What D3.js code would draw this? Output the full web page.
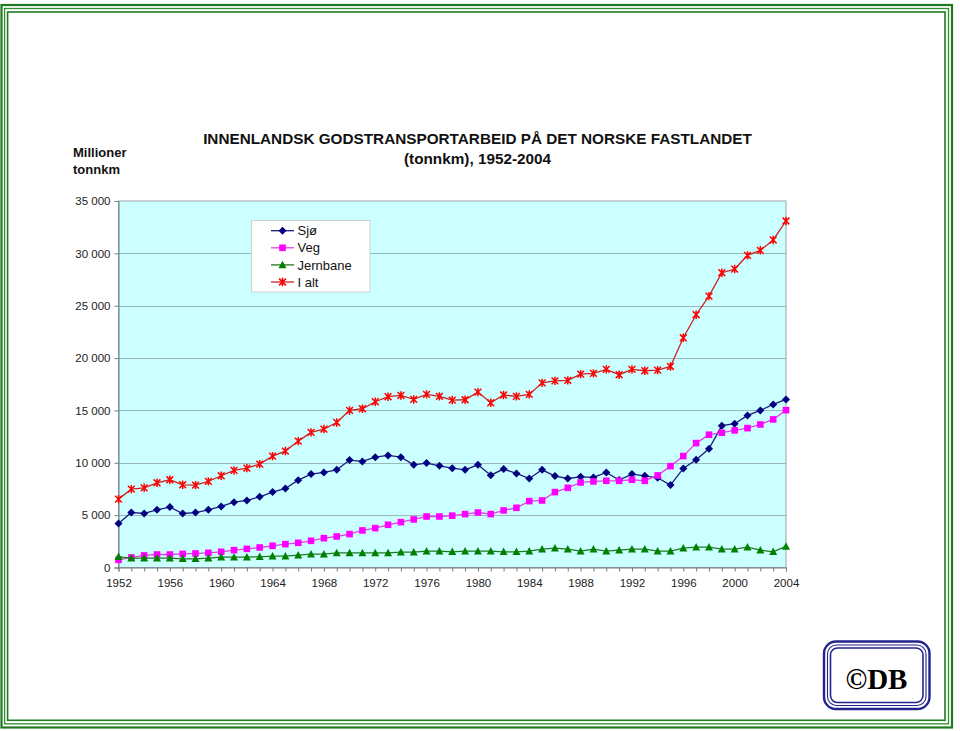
<!DOCTYPE html>
<html>
<head>
<meta charset="utf-8">
<script src="https://cdn.jsdelivr.net/npm/d3@7"></script>
<style>
  html, body { margin: 0; padding: 0; background: #ffffff; }
  svg { display: block; }
  text { font-family: "Liberation Sans", Arial, sans-serif; }
</style>
</head>
<body>
<svg id="chart" width="960" height="731"></svg>
<script>
// ---- Data (Millioner tonnkm) ----
const years = d3.range(1952, 2005);
const sjo = [4200, 5250, 5160, 5510, 5770, 5160, 5250, 5510, 5830, 6240, 6400, 6750, 7200, 7550,
  8340, 8920, 9080, 9330, 10260, 10130, 10540, 10700, 10540, 9810, 9970, 9710, 9490, 9330,
  9810, 8820, 9400, 8980, 8500, 9330, 8730, 8500, 8660, 8600, 9080, 8350, 8920, 8760, 8570,
  7870, 9460, 10290, 11340, 13540, 13730, 14520, 15000, 15570, 16050];
const veg = [730, 960, 1150, 1240, 1240, 1300, 1340, 1400, 1500, 1660, 1780, 1910, 2070, 2230,
  2360, 2550, 2800, 2960, 3190, 3540, 3760, 4080, 4330, 4590, 4870, 4870, 4950, 5100,
  5250, 5100, 5450, 5700, 6340, 6400, 7200, 7610, 8120, 8220, 8280, 8280, 8380, 8280, 8790,
  9680, 10640, 11880, 12680, 12870, 13090, 13310, 13660, 14140, 15030];
const jernbane = [1020, 890, 890, 890, 890, 830, 830, 890, 990, 990, 990, 1020, 1080, 1080,
  1180, 1270, 1270, 1400, 1400, 1400, 1400, 1400, 1470, 1470, 1560, 1560, 1500, 1560,
  1560, 1560, 1500, 1500, 1560, 1750, 1850, 1750, 1560, 1750, 1560, 1660, 1750, 1750, 1560,
  1560, 1850, 1940, 1940, 1750, 1750, 1940, 1660, 1500, 2010];
const ialt = [6530, 7480, 7610, 8090, 8380, 7900, 7870, 8220, 8760, 9270, 9490, 9870, 10640, 11120,
  12070, 12900, 13220, 13850, 15000, 15160, 15830, 16310, 16430, 16050, 16530, 16340, 15990, 16020,
  16750, 15730, 16470, 16340, 16530, 17630, 17820, 17870, 18470, 18540, 18920, 18410, 18920, 18790, 18850,
  19200, 21940, 24140, 25920, 28150, 28500, 29810, 30290, 31280, 33090];

const seriesNames = ["Sjø", "Veg", "Jernbane", "I alt"];
const yTicks = [0, 5000, 10000, 15000, 20000, 25000, 30000, 35000];
const xLabelYears = [1952, 1956, 1960, 1964, 1968, 1972, 1976, 1980, 1984, 1988, 1992, 1996, 2000, 2004];
const titleLines = ["INNENLANDSK GODSTRANSPORTARBEID PÅ DET NORSKE FASTLANDET", "(tonnkm), 1952-2004"];
const unitLines = ["Millioner", "tonnkm"];

// ---- Drawing ----
const svg = d3.select("#chart");

// outer green triple border
const borders = [
  {x0: 1.5, y0: 5, x1: 952, y1: 727.5, w: 2.2, c: "#1f7a1f"},
  {x0: 4.6, y0: 8.5, x1: 948.5, y1: 723.8, w: 1.3, c: "#2e8f2e"},
  {x0: 7.6, y0: 12, x1: 945, y1: 720.3, w: 1.6, c: "#1f7a1f"}
];
svg.selectAll("rect.border").data(borders).enter().append("rect")
  .attr("x", d => d.x0).attr("y", d => d.y0)
  .attr("width", d => d.x1 - d.x0).attr("height", d => d.y1 - d.y0)
  .attr("fill", "none").attr("stroke", d => d.c).attr("stroke-width", d => d.w);

const plot = {left: 118.5, right: 786, top: 201, bottom: 567.5};
const x = d3.scaleLinear().domain([1952, 2004]).range([plot.left, plot.right]);
const y = d3.scaleLinear().domain([0, 35000]).range([plot.bottom, plot.top]);

// plot background
svg.append("rect")
  .attr("x", plot.left).attr("y", plot.top)
  .attr("width", plot.right - plot.left).attr("height", plot.bottom - plot.top)
  .attr("fill", "#ccffff");

// gridlines
svg.append("g").selectAll("line").data(yTicks.filter(v => v > 0 && v < 35000)).enter().append("line")
  .attr("x1", plot.left).attr("x2", plot.right)
  .attr("y1", d => Math.round(y(d)) + 0.5).attr("y2", d => Math.round(y(d)) + 0.5)
  .attr("stroke", "#98b8bc").attr("stroke-width", 1);

// plot border (top/right)
svg.append("rect")
  .attr("x", plot.left).attr("y", plot.top)
  .attr("width", plot.right - plot.left).attr("height", plot.bottom - plot.top)
  .attr("fill", "none").attr("stroke", "#9aa4a8").attr("stroke-width", 1);

// Y axis
const fmt = v => v === 0 ? "0" : d3.format(",")(v).replace(/,/g, " ");
const yAxis = d3.axisLeft(y).tickValues(yTicks).tickFormat(fmt).tickSize(4).tickPadding(4);
const gy = svg.append("g").attr("transform", `translate(${plot.left},0)`).call(yAxis);
gy.select(".domain").attr("stroke", "#6f7f84");
gy.selectAll(".tick line").attr("stroke", "#6f7f84");
gy.selectAll("text").attr("font-size", "11.5px").attr("fill", "#222")
  .style("font-family", "'Liberation Sans', Arial, sans-serif");

// X axis
const xAxis = d3.axisBottom(x).tickValues(years).tickFormat(d => xLabelYears.includes(d) ? d : "")
  .tickSize(4).tickPadding(7);
const gx = svg.append("g").attr("transform", `translate(0,${plot.bottom})`).call(xAxis);
gx.select(".domain").attr("stroke", "#6f7f84");
gx.selectAll(".tick line").attr("stroke", "#6f7f84");
gx.selectAll("text").attr("font-size", "11.5px").attr("fill", "#222")
  .style("font-family", "'Liberation Sans', Arial, sans-serif");

// series
const series = [
  {name: seriesNames[0], values: sjo, line: "#1a1a80", fill: "#000080", shape: "diamond"},
  {name: seriesNames[1], values: veg, line: "#e040e0", fill: "#ff00ff", shape: "square"},
  {name: seriesNames[2], values: jernbane, line: "#1f7a1f", fill: "#008000", shape: "triangle"},
  {name: seriesNames[3], values: ialt, line: "#cc2222", fill: "#ff0000", shape: "star"}
];

function marker(g, shape, cx, cy, fill) {
  if (shape === "diamond") {
    g.append("path").attr("d", `M${cx},${cy-4}L${cx+4},${cy}L${cx},${cy+4}L${cx-4},${cy}Z`).attr("fill", fill);
  } else if (shape === "square") {
    g.append("rect").attr("x", cx - 3.3).attr("y", cy - 3.3).attr("width", 6.6).attr("height", 6.6).attr("fill", fill);
  } else if (shape === "triangle") {
    g.append("path").attr("d", `M${cx},${cy-4.2}L${cx+4},${cy+3.3}L${cx-4},${cy+3.3}Z`).attr("fill", fill);
  } else {
    const r = 3.4;
    g.append("path")
      .attr("d", `M${cx-r},${cy-r}L${cx+r},${cy+r}M${cx-r},${cy+r}L${cx+r},${cy-r}M${cx},${cy-r-0.8}L${cx},${cy+r+0.8}`)
      .attr("stroke", fill).attr("stroke-width", 1.5).attr("fill", "none");
  }
}

const line = d3.line().x((d, i) => x(years[i])).y(d => y(d));
series.forEach(s => {
  const g = svg.append("g");
  g.append("path").datum(s.values).attr("d", line)
    .attr("fill", "none").attr("stroke", s.line).attr("stroke-width", 1.3);
  s.values.forEach((v, i) => marker(g, s.shape, x(years[i]), y(v), s.fill));
});

// legend
const lg = svg.append("g");
lg.append("rect").attr("x", 251.5).attr("y", 220.5).attr("width", 118.5).attr("height", 71.5)
  .attr("fill", "#ffffff").attr("stroke", "#c8d0d0").attr("stroke-width", 1);
series.forEach((s, i) => {
  const cy = 230.7 + i * 17.1;
  lg.append("line").attr("x1", 271).attr("x2", 294).attr("y1", cy).attr("y2", cy)
    .attr("stroke", s.line).attr("stroke-width", 1.3);
  marker(lg, s.shape, 282.5, cy, s.fill);
  lg.append("text").attr("x", 297.5).attr("y", cy + 4.6).attr("font-size", "13px").attr("fill", "#111")
    .text(s.name);
});

// titles
svg.selectAll("text.title").data(titleLines).enter().append("text")
  .attr("class", "title")
  .attr("x", 477.5).attr("y", (d, i) => 143.5 + i * 20)
  .attr("text-anchor", "middle").attr("font-size", "15.3px").attr("font-weight", "bold").attr("fill", "#111")
  .text(d => d);

svg.selectAll("text.unit").data(unitLines).enter().append("text")
  .attr("class", "unit")
  .attr("x", 73).attr("y", (d, i) => 157 + i * 17)
  .attr("font-size", "13px").attr("font-weight", "bold").attr("fill", "#111")
  .text(d => d);

// ©DB logo
const logo = [
  {x0: 824, y0: 641.5, x1: 929.5, y1: 709, w: 2.4, r: 12},
  {x0: 827.5, y0: 645, x1: 926, y1: 705.5, w: 1.1, r: 9},
  {x0: 830.5, y0: 648, x1: 923, y1: 702.5, w: 1.6, r: 7}
];
svg.selectAll("rect.logo").data(logo).enter().append("rect")
  .attr("x", d => d.x0).attr("y", d => d.y0)
  .attr("width", d => d.x1 - d.x0).attr("height", d => d.y1 - d.y0)
  .attr("rx", d => d.r).attr("ry", d => d.r)
  .attr("fill", "none").attr("stroke", "#23238f").attr("stroke-width", d => d.w);
svg.append("text").attr("x", 876.5).attr("y", 688.5).attr("text-anchor", "middle")
  .style("font-family", "'Liberation Serif', 'Times New Roman', serif")
  .attr("font-size", "29px").attr("font-weight", "bold").attr("fill", "#000")
  .text("©DB");
</script>
</body>
</html>
